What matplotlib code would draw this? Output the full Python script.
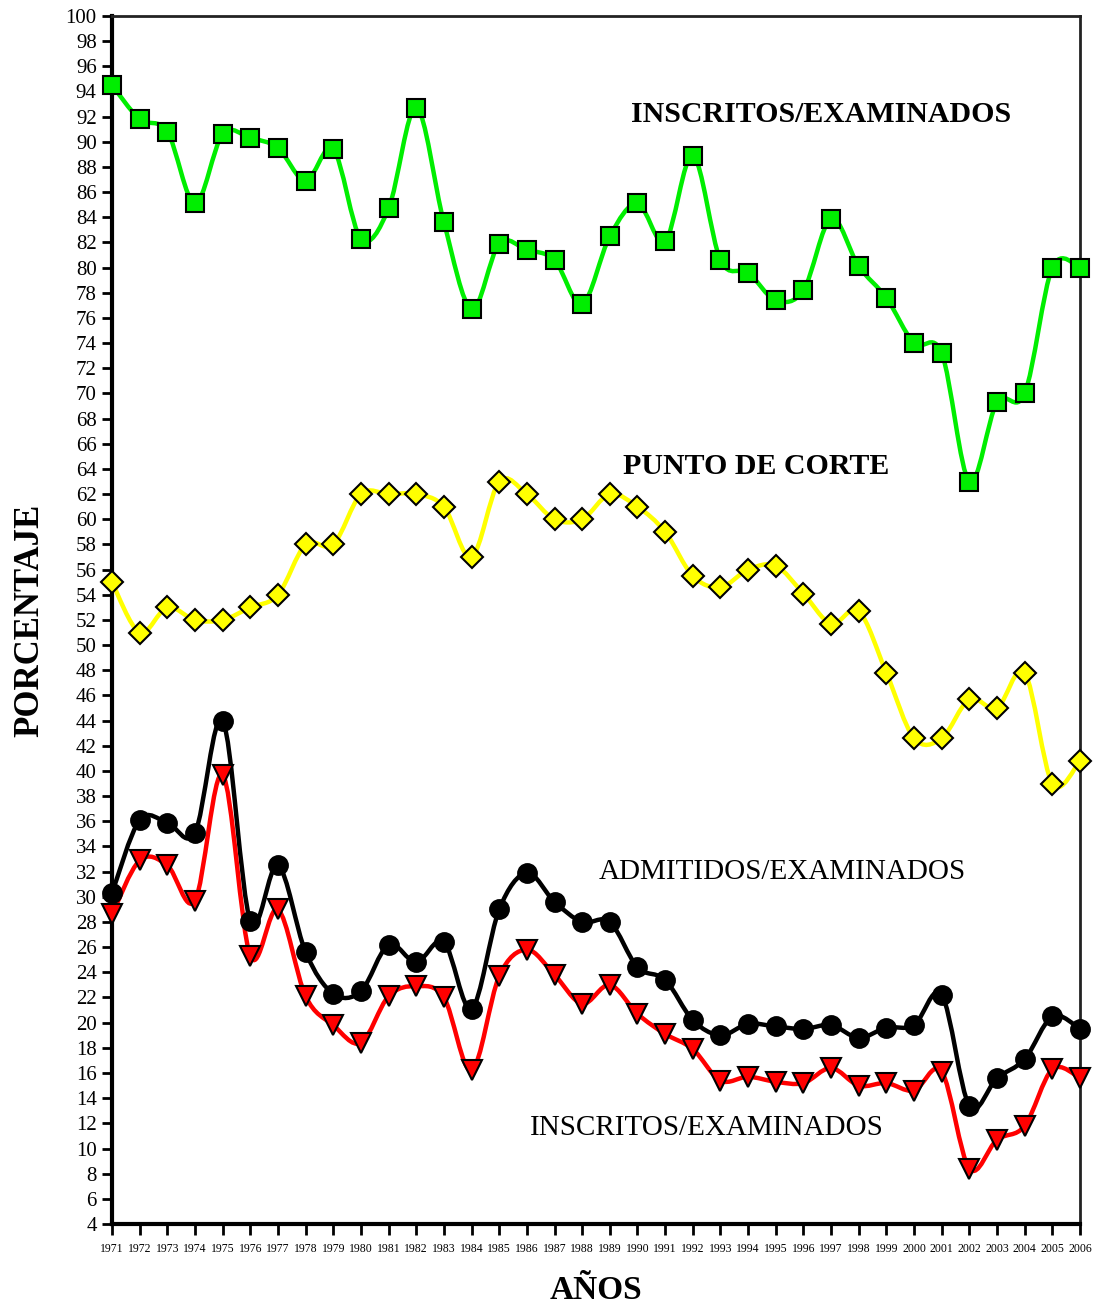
import matplotlib
matplotlib.use("Agg")
import matplotlib.pyplot as plt
from matplotlib.path import Path
from matplotlib.patches import PathPatch
import numpy as np

# Years and series values (percent)
years = list(range(1971, 2007))

inscritos_top = [94.5, 91.8, 90.8, 85.1, 90.6, 90.3, 89.5, 86.9, 89.4, 82.3,
                 84.7, 92.7, 83.6, 76.7, 81.9, 81.4, 80.6, 77.1, 82.5, 85.1,
                 82.1, 88.9, 80.6, 79.6, 77.4, 78.2, 83.9, 80.1, 77.6, 74.0,
                 73.2, 63.0, 69.3, 70.0, 80.0, 80.0]

punto_corte = [55.0, 51.0, 53.0, 52.0, 52.0, 53.0, 54.0, 58.0, 58.0, 62.0,
               62.0, 62.0, 61.0, 57.0, 63.0, 62.0, 60.0, 60.0, 62.0, 61.0,
               59.0, 55.5, 54.6, 56.0, 56.3, 54.1, 51.7, 52.7, 47.8, 42.6,
               42.6, 45.7, 45.0, 47.8, 39.0, 40.8]

admitidos = [30.3, 36.1, 35.9, 35.1, 44.0, 28.1, 32.5, 25.6, 22.3, 22.5,
             26.2, 24.8, 26.4, 21.1, 29.0, 31.9, 29.6, 28.0, 28.0, 24.4,
             23.4, 20.2, 19.0, 19.9, 19.7, 19.5, 19.8, 18.8, 19.6, 19.8,
             22.2, 13.4, 15.6, 17.1, 20.5, 19.5]

inscritos_low = [28.6, 32.9, 32.5, 29.7, 39.7, 25.3, 29.0, 22.1, 19.8, 18.4,
                 22.1, 22.9, 22.0, 16.2, 23.7, 25.8, 23.8, 21.5, 23.0, 20.7,
                 19.1, 17.9, 15.4, 15.7, 15.3, 15.2, 16.4, 15.0, 15.2, 14.6,
                 16.1, 8.4, 10.7, 11.8, 16.3, 15.6]

plt.rcParams['font.family'] = ['Liberation Serif', 'DejaVu Serif']


def smooth_path(x, y):
    # Catmull-Rom style cubic Bezier through the data points (Excel "smoothed line")
    pts = np.column_stack([x, y]).astype(float)
    n = len(pts)
    verts = [pts[0]]
    codes = [Path.MOVETO]
    for i in range(n - 1):
        p0 = pts[i - 1] if i > 0 else pts[i]
        p1 = pts[i]
        p2 = pts[i + 1]
        p3 = pts[i + 2] if i + 2 < n else pts[i + 1]
        c1 = p1 + (p2 - p0) / 6.0
        c2 = p2 - (p3 - p1) / 6.0
        verts += [c1, c2, p2]
        codes += [Path.CURVE4] * 3
    return Path(verts, codes)


fig = plt.figure(figsize=(10.94, 13.07), dpi=100)
ax = fig.add_axes([0.1024, 0.0635, 0.8848, 0.9243])

series = [
    (inscritos_top, '#00EE00', 's', 12.5),
    (punto_corte, '#FFFF00', 'D', 11.5),
    (admitidos, 'black', 'o', 13.5),
    (inscritos_low, 'red', 'v', 14),
]

for vals, color, marker, ms in series:
    ax.add_patch(PathPatch(smooth_path(years, vals), fill=False,
                           edgecolor=color, lw=3.2, zorder=2))
    ax.plot(years, vals, ls='none', marker=marker, markersize=ms,
            markerfacecolor=color, markeredgecolor='black',
            markeredgewidth=1.5, zorder=3, clip_on=False)

ax.set_xlim(1971, 2006)
ax.set_ylim(4, 100)
ax.set_yticks(range(4, 101, 2))
ax.set_xticks(years)
ax.set_xticklabels([str(y) for y in years], fontsize=8.5)
ax.tick_params(axis='y', labelsize=15, length=7, width=2, direction='out', pad=4)
ax.tick_params(axis='x', length=8, width=2, direction='out', pad=6)

for side in ['left', 'bottom']:
    ax.spines[side].set_linewidth(3)
    ax.spines[side].set_color('black')
for side in ['top', 'right']:
    ax.spines[side].set_linewidth(2)
    ax.spines[side].set_color('#222222')

ax.set_ylabel('PORCENTAJE', fontsize=25, fontweight='bold', labelpad=14)
ax.set_xlabel('AÑOS', fontsize=24, fontweight='bold', labelpad=14)

ax.text(1996.65, 92.2, 'INSCRITOS/EXAMINADOS', fontsize=21.5, fontweight='bold',
        ha='center', va='center')
ax.text(1994.3, 64.2, 'PUNTO DE CORTE', fontsize=21.5, fontweight='bold',
        ha='center', va='center')
ax.text(1995.25, 32.0, 'ADMITIDOS/EXAMINADOS', fontsize=21,
        ha='center', va='center')
ax.text(1992.5, 11.6, 'INSCRITOS/EXAMINADOS', fontsize=21,
        ha='center', va='center')

fig.savefig('out.png', dpi=100, facecolor='white')
